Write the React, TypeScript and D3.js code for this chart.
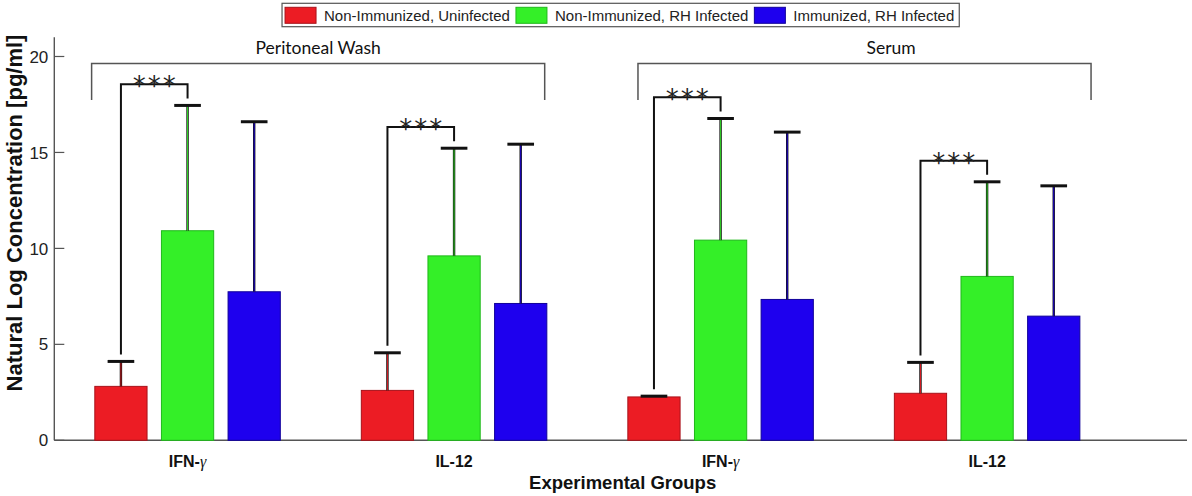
import { scaleLinear } from 'd3';

// Cytokine levels by compartment, grouped bars with upper-only error bars.
const categories = ['IFN-γ', 'IL-12', 'IFN-γ', 'IL-12'];
const tissues = ['Peritoneal Wash', 'Serum'];
const seriesNames = ['Non-Immunized, Uninfected', 'Non-Immunized, RH Infected', 'Immunized, RH Infected'];

const uninfectedMean = [2.81, 2.6, 2.26, 2.45];
const uninfectedUpper = [4.11, 4.56, 2.3, 4.06];
const rhInfectedMean = [10.92, 9.61, 10.43, 8.54];
const rhInfectedUpper = [17.45, 15.22, 16.77, 13.47];
const immunizedMean = [7.74, 7.13, 7.34, 6.47];
const immunizedUpper = [16.6, 15.43, 16.06, 13.26];

const yTicks = [0, 5, 10, 15, 20];

// "***" between uninfected and RH infected in every category
const sigCategories = [0, 1, 2, 3];

// compartment brackets (x in group units) and their titles
const tissueFrom = [0.64, 2.69];
const tissueTo = [2.34, 4.39];
const tissueLabelX = [1.49, 3.64];
const tissueBracketTop = 19.63;
const tissueBracketLeg = 17.73;

const means = [uninfectedMean, rhInfectedMean, immunizedMean];
const uppers = [uninfectedUpper, rhInfectedUpper, immunizedUpper];
const fills = ['#ec1c24', '#34ef28', '#1e00ee'];
const edges = ['#a8121a', '#1fb81a', '#10009a'];

const W = 1192;
const H = 496;
const m = { left: 54.3, right: 1187, top: 37.3, bottom: 440.3 };
const FONT = "'Liberation Sans', Arial, sans-serif";

function measure(text: string, font: string) {
  const ctx = document.createElement('canvas').getContext('2d');
  if (!ctx) return text.length * 7.5;
  ctx.font = font;
  return ctx.measureText(text).width;
}

function CatLabel({ text }: { text: string }) {
  const i = text.indexOf('γ');
  if (i < 0) return <>{text}</>;
  return (
    <>
      <tspan>{text.slice(0, i)}</tspan>
      <tspan fontFamily="'Liberation Serif', serif" fontStyle="italic" fontWeight={400}>
        γ
      </tspan>
    </>
  );
}

export default function App() {
  const x = scaleLinear().domain([0.5, 4.75]).range([m.left, m.right]);
  const y = scaleLinear().domain([0, 21]).range([m.bottom, m.top]);
  const offset = 0.25;
  const barW = x(0.196) - x(0);
  const capW = x(0.1) - x(0);
  const sx = (s: number, c: number) => x(c + 1 + (s - 1) * offset);

  // legend layout
  const legendFont = `15px ${FONT}`;
  const sw = 31;
  const widths = seriesNames.map((n) => measure(n, legendFont));
  const legendW = 3 + widths.reduce((a, w) => a + sw + 8 + w, 0) + 6 * (seriesNames.length - 1) + 5;
  const legendX = (m.left + m.right) / 2 - legendW / 2;
  let cursor = legendX + 3;
  const legendItems = seriesNames.map((n, i) => {
    const item = { name: n, x: cursor, color: i };
    cursor += sw + 8 + widths[i] + 6;
    return item;
  });

  return (
    <svg width={W} height={H} viewBox={`0 0 ${W} ${H}`} style={{ position: 'absolute', left: 0, top: 0, background: '#fff' }}>
      {/* legend */}
      <rect x={legendX} y={3.3} width={legendW} height={23.4} fill="#fff" stroke="#555" strokeWidth={1.2} />
      {legendItems.map((it) => (
        <g key={it.name}>
          <rect x={it.x} y={7.3} width={sw} height={16} fill={fills[it.color]} stroke={edges[it.color]} strokeWidth={1} />
          <text x={it.x + sw + 8} y={20.5} fontFamily={FONT} fontSize={15} fill="#222">
            {it.name}
          </text>
        </g>
      ))}

      {/* axes */}
      <line x1={m.left} x2={m.left} y1={m.top} y2={m.bottom} stroke="#555" strokeWidth={1.4} />
      <line x1={m.left} x2={m.right} y1={m.bottom} y2={m.bottom} stroke="#555" strokeWidth={1.4} />
      {yTicks.map((t) => (
        <g key={t}>
          <line x1={m.left} x2={m.left + 10} y1={y(t)} y2={y(t)} stroke="#555" strokeWidth={1.2} />
          <text x={m.left - 6} y={y(t)} dy="0.36em" textAnchor="end" fontFamily={FONT} fontSize={17} fill="#222">
            {t}
          </text>
        </g>
      ))}
      <text
        transform={`translate(22,213) rotate(-90)`}
        textAnchor="middle"
        fontFamily={FONT}
        fontWeight={700}
        fontSize={22}
        fill="#111"
      >
        Natural Log Concentration [pg/ml]
      </text>
      {categories.map((c, i) => (
        <text key={i} x={x(i + 1)} y={467} textAnchor="middle" fontFamily={FONT} fontWeight={700} fontSize={16} fill="#111">
          <CatLabel text={c} />
        </text>
      ))}
      <text x={(m.left + m.right) / 2 + 2} y={489} textAnchor="middle" fontFamily={FONT} fontWeight={700} fontSize={18.5} fill="#111">
        Experimental Groups
      </text>

      {/* bars */}
      {means.map((vals, s) =>
        vals.map((v, c) => (
          <rect
            key={`${s}-${c}`}
            x={sx(s, c) - barW / 2}
            y={y(v)}
            width={barW}
            height={y(0) - y(v)}
            fill={fills[s]}
            stroke={edges[s]}
            strokeWidth={1}
          />
        )),
      )}

      {/* error bars (upper only) */}
      {uppers.map((vals, s) =>
        vals.map((u, c) => {
          const cx = sx(s, c);
          return (
            <g key={`e${s}-${c}`}>
              <line x1={cx} x2={cx} y1={y(means[s][c])} y2={y(u)} stroke="#111" strokeWidth={2.4} />
              <line x1={cx} x2={cx} y1={y(means[s][c])} y2={y(u)} stroke={fills[s]} strokeWidth={0.9} />
              <line x1={cx - capW / 2} x2={cx + capW / 2} y1={y(u)} y2={y(u)} stroke="#111" strokeWidth={3} />
            </g>
          );
        }),
      )}

      {/* significance brackets */}
      {sigCategories.map((c) => {
        const xa = sx(0, c);
        const xb = sx(1, c);
        const top = y(rhInfectedUpper[c] + 1.1);
        return (
          <g key={`sig${c}`}>
            <path
              d={`M${xa},${y(uninfectedUpper[c]) - 7}V${top}H${xb}V${y(rhInfectedUpper[c]) - 7}`}
              fill="none"
              stroke="#111"
              strokeWidth={2}
            />
            <text
              x={(xa + xb) / 2 + 1}
              y={top + 11}
              textAnchor="middle"
              fontFamily="'DejaVu Sans', sans-serif"
              fontSize={26}
              letterSpacing={2}
              fill="#222"
            >
              ***
            </text>
          </g>
        );
      })}

      {/* compartment brackets */}
      {tissues.map((t, i) => (
        <g key={t}>
          <path
            d={`M${x(tissueFrom[i])},${y(tissueBracketLeg)}V${y(tissueBracketTop)}H${x(tissueTo[i])}V${y(tissueBracketLeg)}`}
            fill="none"
            stroke="#555"
            strokeWidth={1.5}
          />
          <text x={x(tissueLabelX[i])} y={y(tissueBracketTop) - 9.5} textAnchor="middle" fontFamily="Lato, 'Open Sans', sans-serif" fontSize={17.5} fill="#111">
            {t}
          </text>
        </g>
      ))}
    </svg>
  );
}
